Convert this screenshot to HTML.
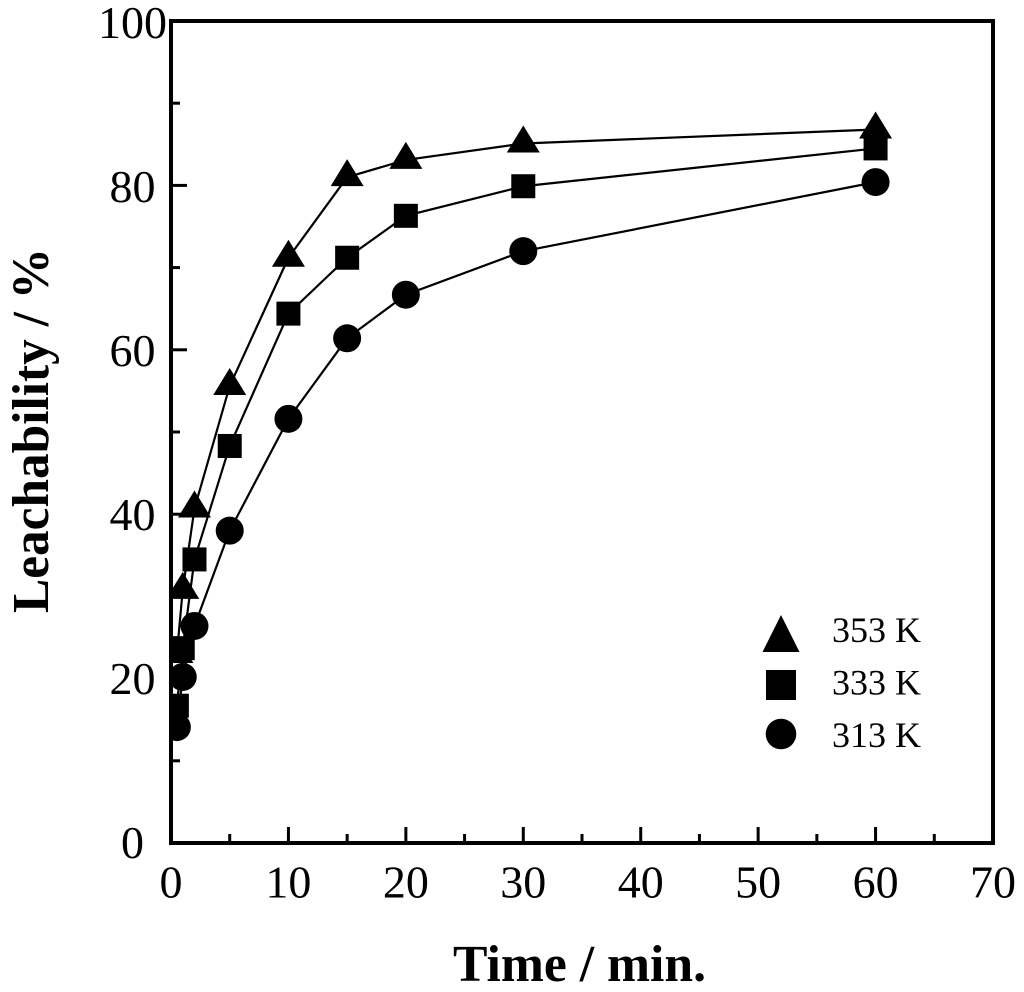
<!DOCTYPE html>
<html lang="en">
<head>
<meta charset="utf-8">
<title>Leachability vs Time</title>
<style>
html,body{margin:0;padding:0;background:#fff;}
svg{display:block;}
text{font-family:"Liberation Serif",serif;fill:#000;}
</style>
</head>
<body>
<svg id="chart" xmlns="http://www.w3.org/2000/svg" width="1024" height="992" viewBox="0 0 1024 992">
<defs><clipPath id="plot-clip"><rect x="171" y="21" width="822" height="822"/></clipPath></defs>
<g id="series" clip-path="url(#plot-clip)"></g>
<rect x="171" y="21" width="822" height="822" fill="none" stroke="#000" stroke-width="4"/>
<g id="ticks"></g>
<g id="legend"></g>
<text x="453" y="981" font-size="52" font-weight="bold" textLength="253" lengthAdjust="spacingAndGlyphs">Time / min.</text>
<text transform="translate(48,613) rotate(-90)" font-size="52" font-weight="bold" textLength="365" lengthAdjust="spacingAndGlyphs">Leachability / %</text>
</svg>
<script>
const times = [0.5, 1, 2, 5, 10, 15, 20, 30, 60];
const values353 = [23, 30.8, 40.7, 55.6, 71.2, 81, 83.1, 85.1, 86.8];
const values333 = [16.7, 23.7, 34.5, 48.3, 64.4, 71.2, 76.3, 79.9, 84.5];
const values313 = [14.1, 20.2, 26.4, 38, 51.6, 61.4, 66.7, 72, 80.4];
const xTickLabels = [0, 10, 20, 30, 40, 50, 60, 70];
const yTickLabels = [0, 20, 40, 60, 80, 100];
const xMinorTicks = [5, 15, 25, 35, 45, 55, 65];
const yMinorTicks = [10, 30, 50, 70, 90];
const seriesNames = ['353 K', '333 K', '313 K'];

const NS = 'http://www.w3.org/2000/svg';
const xScale = v => 171 + v * 822 / 70;
const yScale = v => 843 - v * 822 / 100;

function make(tag, attrs, parent) {
  const el = document.createElementNS(NS, tag);
  for (const k in attrs) el.setAttribute(k, attrs[k]);
  parent.appendChild(el);
  return el;
}

function triangle(cx, top, bottom, w, parent) {
  return make('polygon', {
    points: `${cx},${top} ${cx - w / 2},${bottom} ${cx + w / 2},${bottom}`,
    fill: '#000'
  }, parent);
}
function square(cx, cy, side, parent) {
  return make('rect', {x: cx - side / 2, y: cy - side / 2, width: side, height: side, fill: '#000'}, parent);
}
function circle(cx, cy, r, parent) {
  return make('circle', {cx: cx, cy: cy, r: r, fill: '#000'}, parent);
}

function linePath(pts) {
  return pts.map((p, i) => (i ? 'L' : 'M') + p[0] + ',' + p[1]).join(' ');
}

const ticks = document.getElementById('ticks');
xTickLabels.forEach(v => {
  const x = xScale(v);
  if (v > 0 && v < 70) {
    const t = make('line', {x1: x, x2: x, y1: 843, y2: 827, stroke: '#000', 'stroke-width': 3}, ticks);
    
    
  }
  const l = make('text', {x: x, y: 897.5, 'font-size': 46, 'text-anchor': 'middle'}, ticks);
  l.textContent = v;
  
  
});
xMinorTicks.forEach(v => {
  const x = xScale(v);
  const t = make('line', {x1: x, x2: x, y1: 843, y2: 834, stroke: '#000', 'stroke-width': 3}, ticks);
  
  
});
yTickLabels.forEach(v => {
  const y = yScale(v);
  if (v > 0 && v < 100) {
    const t = make('line', {x1: 171, x2: 187, y1: y, y2: y, stroke: '#000', 'stroke-width': 3}, ticks);
    
    
  }
  const l = make('text', {x: 132.5, y: y + 15 + v / 50, 'font-size': 46, 'text-anchor': 'middle'}, ticks);
  l.textContent = v;
  
  
});
yMinorTicks.forEach(v => {
  const y = yScale(v);
  const t = make('line', {x1: 171, x2: 180, y1: y, y2: y, stroke: '#000', 'stroke-width': 3}, ticks);
  
  
});

const seriesRoot = document.getElementById('series');
function drawSeries(values, drawMarker, name) {
  const g = make('g', {}, seriesRoot);
  
  
  const pts = times.map((t, i) => [xScale(t), yScale(values[i])]);
  const line = make('path', {d: linePath(pts), fill: 'none', stroke: '#000', 'stroke-width': 2.2}, g);
  
  
  pts.forEach(p => {
    const m = drawMarker(p[0], p[1], g);
    
    
  });
}
drawSeries(values353, (x, y, g) => triangle(x, y - 18, y + 9, 33, g), 'series-353-k');
drawSeries(values333, (x, y, g) => square(x, y, 24, g), 'series-333-k');
drawSeries(values313, (x, y, g) => circle(x, y, 14, g), 'series-313-k');

const legend = document.getElementById('legend');
const legendMarkers = [
  g => triangle(781, 615, 652, 37, g),
  g => square(781, 685, 30, g),
  g => circle(781, 734, 15.3, g)
];
seriesNames.forEach((name, i) => {
  const textY = 642 + i * 52.5;
  const m = legendMarkers[i](legend);
  
  
  const t = make('text', {x: 832, y: textY, 'font-size': 36}, legend);
  t.textContent = name;
  
  
});
</script>
</body>
</html>
